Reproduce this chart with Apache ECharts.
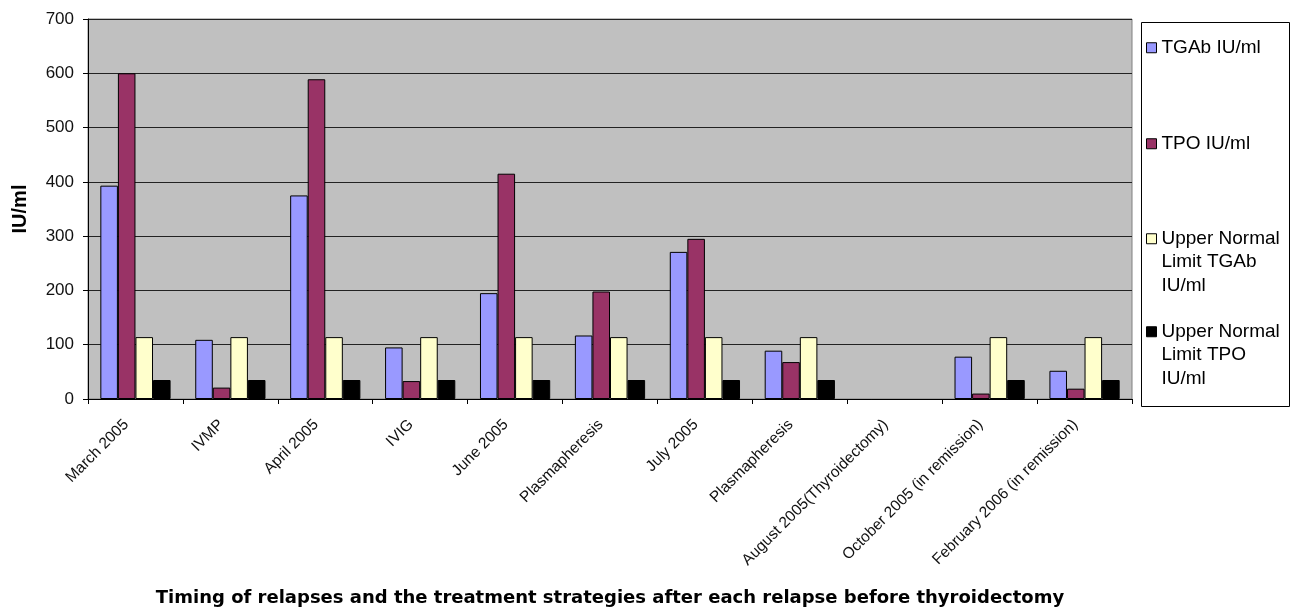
<!DOCTYPE html>
<html>
<head>
<meta charset="utf-8">
<script src="https://cdn.jsdelivr.net/npm/echarts@6/dist/echarts.min.js"></script>
<style>
  html, body { margin: 0; padding: 0; background: #fff; }
  #chart { width: 1291px; height: 609px; }
</style>
</head>
<body>
<div id="chart"></div>
<script>
// Antibody levels at each relapse / treatment step
const categories = [
  'March 2005', 'IVMP', 'April 2005', 'IVIG', 'June 2005', 'Plasmapheresis',
  'July 2005', 'Plasmapheresis', 'August 2005(Thyroidectomy)',
  'October 2005 (in remission)', 'February 2006 (in remission)'
];
const tgab    = [393, 109, 375, 95, 195, 117, 271, 89, null, 78, 52];
const tpo     = [600, 21, 589, 33, 415, 198, 295, 68, null, 10, 19];
const unlTgab = [114, 114, 114, 114, 114, 114, 114, 114, null, 114, 114];
const unlTpo  = [35, 35, 35, 35, 35, 35, 35, 35, null, 35, 35];
const seriesNames = [
  'TGAb IU/ml', 'TPO IU/ml', 'Upper Normal\nLimit TGAb\nIU/ml', 'Upper Normal\nLimit TPO\nIU/ml'
];
const yTicks = [0, 100, 200, 300, 400, 500, 600, 700];

const colors = ['#9999FF', '#993366', '#FFFFCC', '#000000'];
const font = 'Arial, "Liberation Sans", sans-serif';

const chart = echarts.init(document.getElementById('chart'), null, { renderer: 'canvas' });

function bar(name, data, color) {
  return {
    name, type: 'bar', data,
    barGap: '0%', barCategoryGap: '26%',
    itemStyle: { color, borderColor: '#000', borderWidth: 1 }
  };
}

// Multi-line entries keep the marker beside the first line: the icon box is
// as tall as the text block, with the square drawn at its top.
const LINE_H = 23.5;
function legendItem(name, top, lines) {
  const tall = lines > 1;
  const h = tall ? 10 + (lines - 1) * LINE_H : 10;
  return {
    data: [name], left: 1146, top, orient: 'vertical', padding: 0,
    icon: tall ? 'path://M0,0L10,0L10,10L0,10Z M0,' + h + 'L0.01,' + h : 'rect',
    itemWidth: 10, itemHeight: h, itemGap: 0,
    itemStyle: { borderColor: '#000', borderWidth: 1 },
    selectedMode: false,
    textStyle: { fontFamily: font, fontSize: 19, color: '#000', lineHeight: LINE_H }
  };
}

chart.setOption({
  animation: false,
  textStyle: { fontFamily: font },
  grid: {
    left: 88, top: 19, right: 159, bottom: 210,
    outerBoundsMode: 'none',
    show: true, backgroundColor: '#C0C0C0', borderColor: '#808080', borderWidth: 1
  },
  graphic: [{
    type: 'rect', z: 0,
    shape: { x: 1141.5, y: 22.5, width: 148, height: 384 },
    style: { fill: '#fff', stroke: '#000', lineWidth: 1 }
  }],
  legend: [
    legendItem(seriesNames[0], 36, 1),
    legendItem(seriesNames[1], 132, 1),
    legendItem(seriesNames[2], 227, 3),
    legendItem(seriesNames[3], 320, 3)
  ],
  xAxis: {
    type: 'category', data: categories,
    name: 'Timing of relapses and the treatment strategies after each relapse before thyroidectomy',
    nameLocation: 'middle', nameGap: 190,
    nameTextStyle: { fontFamily: '"DejaVu Sans", sans-serif', fontSize: 18, fontWeight: 'bold', color: '#000' },
    axisLine: { lineStyle: { color: '#000', width: 1 } },
    axisTick: { show: true, length: 5, lineStyle: { color: '#000' } },
    axisLabel: { rotate: 45, interval: 0, fontSize: 15.5, color: '#111', margin: 14, padding: [0, 13, 0, 0] }
  },
  yAxis: {
    type: 'value', min: 0, max: 700, interval: 100,
    name: 'IU/ml', nameLocation: 'middle', nameGap: 58, nameRotate: 90,
    nameTextStyle: { fontFamily: font, fontSize: 20, fontWeight: 'bold', color: '#000' },
    axisLine: { show: true, lineStyle: { color: '#000', width: 1 } },
    axisTick: { show: true, length: 5, lineStyle: { color: '#000' } },
    axisLabel: {
      fontSize: 17, color: '#111', margin: 14,
      formatter: v => (yTicks.includes(v) ? String(v) : '')
    },
    splitLine: { show: true, lineStyle: { color: '#222', width: 1 } }
  },
  series: [
    bar(seriesNames[0], tgab, colors[0]),
    bar(seriesNames[1], tpo, colors[1]),
    bar(seriesNames[2], unlTgab, colors[2]),
    bar(seriesNames[3], unlTpo, colors[3])
  ]
});
</script>
</body>
</html>
